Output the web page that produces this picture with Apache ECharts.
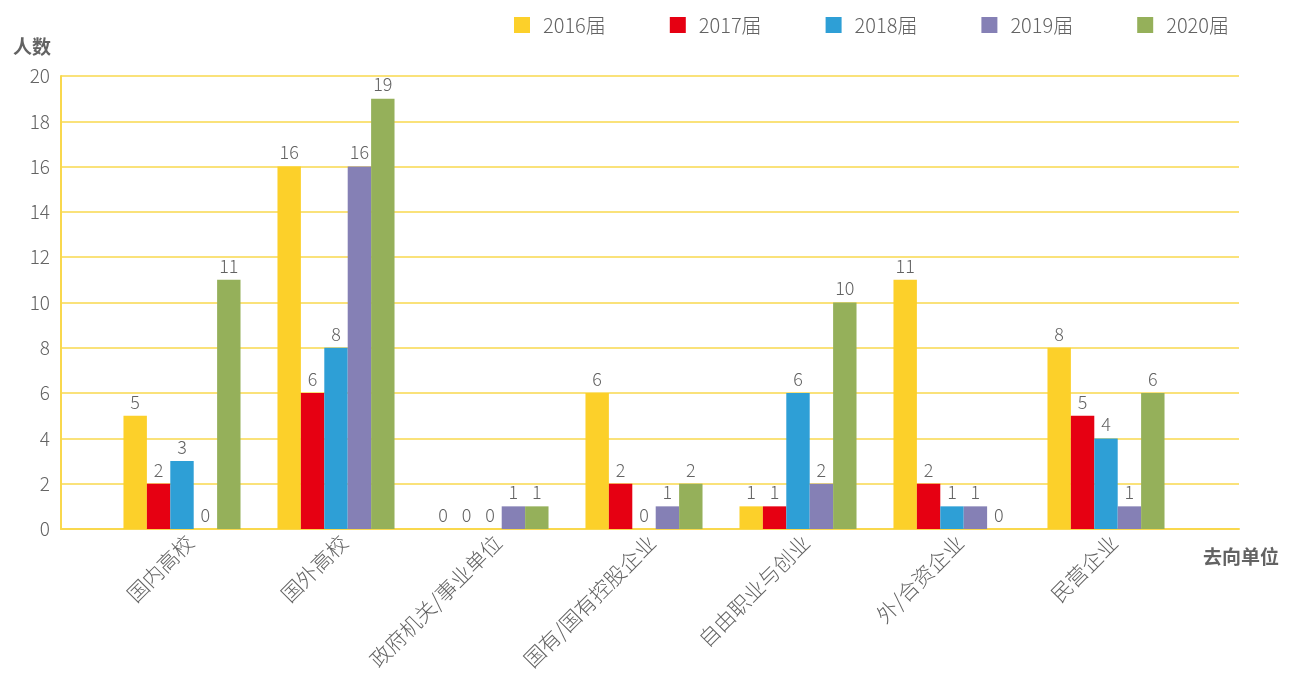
<!DOCTYPE html>
<html>
<head>
<meta charset="utf-8">
<script src="https://cdn.jsdelivr.net/npm/echarts@6/dist/echarts.min.js"></script>
<style>
  html, body { margin: 0; padding: 0; background: #fff; }
  #main { width: 1303px; height: 673px; }
</style>
</head>
<body>
<div id="main"></div>
<script>
// 去向单位
const categories = ['国内高校', '国外高校', '政府机关/事业单位', '国有/国有控股企业', '自由职业与创业', '外/合资企业', '民营企业'];
const years = ['2016届', '2017届', '2018届', '2019届', '2020届'];
const v2016 = [5, 16, 0, 6, 1, 11, 8];
const v2017 = [2, 6, 0, 2, 1, 2, 5];
const v2018 = [3, 8, 0, 0, 6, 1, 4];
const v2019 = [0, 16, 1, 1, 2, 1, 1];
const v2020 = [11, 19, 1, 2, 10, 0, 6];
const yTicks = [0, 2, 4, 6, 8, 10, 12, 14, 16, 18, 20];

const colors = ['#FCD02A', '#E60012', '#2E9FD6', '#8580B5', '#95B05A'];
const allValues = [v2016, v2017, v2018, v2019, v2020];
const font = '"Noto Sans CJK SC", "Noto Sans", sans-serif';
const gray = '#636363';
const yellowLine = '#F9D84E';

var myChart = echarts.init(document.getElementById('main'));

var series = years.map(function (name, i) {
  return {
    name: name,
    type: 'bar',
    xAxisIndex: 1,
    yAxisIndex: 1,
    data: allValues[i],
    barGap: '0%',
    barCategoryGap: '24%',
    itemStyle: { color: colors[i] },
    label: {
      show: true,
      position: 'top',
      distance: 5,
      color: gray,
      fontSize: 18,
      fontWeight: 300,
      fontFamily: font
    }
  };
});

var option = {
  color: colors,
  animation: false,
  legend: {
    top: 10,
    left: 509,
    itemWidth: 16,
    itemHeight: 16,
    itemGap: 64,
    icon: 'rect',
    textStyle: { color: gray, fontSize: 20, fontWeight: 300, fontFamily: font, padding: [0, 0, 0, 8] },
    data: years
  },
  grid: [
    { left: 61, right: 64, top: 76, bottom: 144 },
    { left: 105, right: 120, top: 76, bottom: 144 },
    { left: 113, right: 112, top: 76, bottom: 144 }
  ],
  xAxis: [
    {
      gridIndex: 0,
      type: 'value',
      min: 0,
      max: 1,
      axisLine: { show: true, lineStyle: { color: yellowLine, width: 2 } },
      axisTick: { show: false },
      axisLabel: { show: false },
      splitLine: { show: false },
      name: '去向单位',
      nameLocation: 'end',
      nameGap: -36,
      nameTextStyle: {
        color: gray, fontSize: 19, fontWeight: 'bold', fontFamily: font,
        padding: [18, 0, 0, 0], verticalAlign: 'top'
      }
    },
    {
      gridIndex: 1,
      type: 'category',
      data: categories,
      axisLine: { show: false },
      axisTick: { show: false },
      axisLabel: { show: false }
    },
    {
      // 只用于显示倾斜的类目标签
      gridIndex: 2,
      type: 'category',
      data: categories,
      axisLine: { show: false },
      axisTick: { show: false },
      axisLabel: {
        rotate: 45,
        margin: 14,
        color: gray,
        fontSize: 21,
        fontWeight: 300,
        fontFamily: font,
        interval: 0
      }
    }
  ],
  yAxis: [
    {
      gridIndex: 0,
      type: 'value',
      min: 0,
      max: 20,
      interval: 2,
      name: '人数',
      nameGap: 20,
      nameTextStyle: {
        color: gray, fontSize: 19, fontWeight: 'bold', fontFamily: font,
        align: 'right', padding: [0, 10, 0, 0]
      },
      axisLine: { show: true, lineStyle: { color: yellowLine, width: 2 } },
      axisTick: { show: false },
      axisLabel: {
        color: gray, fontSize: 19, fontWeight: 300, fontFamily: font, margin: 11,
        formatter: function (v) { return yTicks.indexOf(v) >= 0 ? v : ''; }
      },
      splitLine: { show: true, lineStyle: { color: yellowLine, width: 1.5 } }
    },
    {
      gridIndex: 1,
      type: 'value',
      min: 0,
      max: 20,
      interval: 2,
      show: false,
      splitLine: { show: false }
    },
    {
      gridIndex: 2,
      type: 'value',
      min: 0,
      max: 20,
      interval: 2,
      show: false,
      splitLine: { show: false }
    }
  ],
  series: series
};
option && myChart.setOption(option);
</script>
</body>
</html>
